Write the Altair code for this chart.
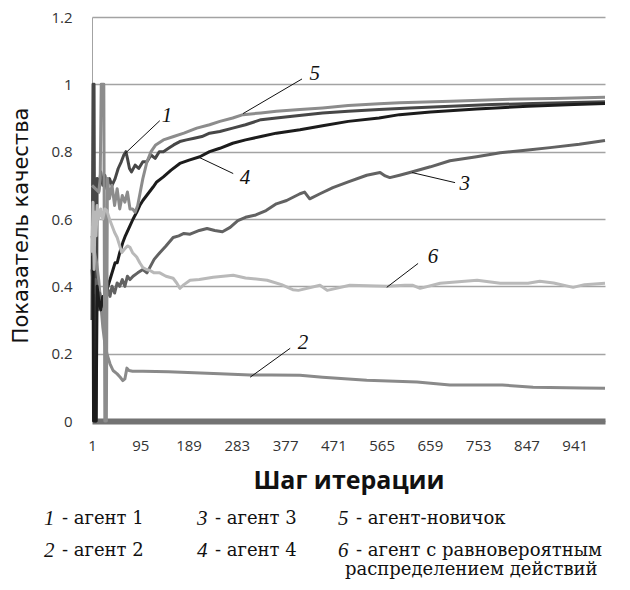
import altair as alt
import pandas as pd

# ---------------- data ----------------
x_ticks = [1, 95, 189, 283, 377, 471, 565, 659, 753, 847, 941]
y_ticks = [0, 0.2, 0.4, 0.6, 0.8, 1.0, 1.2]

series_keys = ["1", "2", "3", "4", "5", "6"]
series_names = ["агент 1", "агент 2", "агент 3", "агент 4", "агент-новичок",
                "агент с равновероятным распределением действий"]

steps_1 = [1, 3, 5, 7, 9, 11, 14, 18, 22, 26, 30, 35, 40, 46, 52, 58, 63, 67, 70, 74, 78, 85, 92,
           100, 108, 116, 124, 132, 140, 150, 160, 172, 185, 200, 215, 230, 250, 275, 300, 330,
           360, 400, 450, 500, 560, 620, 700, 780, 860, 940, 1000]
vals_1 = [0.3, 1.0, 1.0, 0.0, 0.0, 0.72, 0.68, 0.74, 0.70, 0.73, 0.69, 0.72, 0.70, 0.72, 0.75, 0.77,
          0.79, 0.80, 0.78, 0.75, 0.74, 0.76, 0.75, 0.77, 0.77, 0.79, 0.78, 0.80, 0.80, 0.81, 0.82,
          0.83, 0.835, 0.84, 0.845, 0.855, 0.86, 0.87, 0.88, 0.895, 0.90, 0.907, 0.915, 0.92, 0.925,
          0.93, 0.935, 0.94, 0.943, 0.946, 0.948]

steps_2 = [1, 6, 10, 14, 18, 22, 26, 30, 36, 42, 50, 56, 61, 65, 69, 73, 80, 100, 150, 200, 250,
           309, 350, 406, 450, 536, 634, 698, 800, 860, 957, 1000]
vals_2 = [0.55, 0.50, 0.47, 0.42, 0.35, 0.28, 0.23, 0.20, 0.17, 0.15, 0.14, 0.13, 0.12, 0.125,
          0.157, 0.15, 0.148, 0.148, 0.146, 0.143, 0.14, 0.137, 0.137, 0.136, 0.13, 0.121, 0.116,
          0.107, 0.107, 0.10, 0.098, 0.097]

steps_3 = [1, 4, 8, 12, 16, 20, 24, 28, 32, 36, 40, 45, 50, 55, 60, 65, 70, 75, 81, 90, 100, 108,
           115, 122, 133, 145, 159, 170, 180, 192, 210, 225, 240, 255, 270, 285, 300, 320, 340,
           360, 380, 406, 415, 425, 445, 470, 500, 536, 562, 572, 581, 600, 620, 660, 698, 750,
           796, 850, 893, 950, 1000]
vals_3 = [0.45, 0.38, 0.42, 0.33, 0.38, 0.34, 0.37, 0.36, 0.39, 0.37, 0.40, 0.38, 0.41, 0.40, 0.42,
          0.40, 0.43, 0.42, 0.43, 0.44, 0.45, 0.44, 0.46, 0.48, 0.50, 0.52, 0.545, 0.55, 0.557,
          0.555, 0.566, 0.572, 0.566, 0.562, 0.575, 0.595, 0.605, 0.612, 0.625, 0.645, 0.655,
          0.675, 0.68, 0.66, 0.675, 0.693, 0.71, 0.73, 0.738, 0.728, 0.723, 0.73, 0.738, 0.755,
          0.773, 0.785, 0.797, 0.805, 0.812, 0.822, 0.833]

steps_4 = [1, 3, 4, 9, 11, 14, 18, 22, 26, 30, 34, 38, 42, 46, 50, 55, 61, 66, 72, 81, 88, 94, 100,
           110, 120, 127, 140, 155, 172, 190, 211, 230, 250, 275, 300, 330, 360, 406, 450, 500,
           560, 600, 660, 750, 850, 940, 1000]
vals_4 = [0.49, 0.49, 0.0, 0.0, 0.40, 0.36, 0.33, 0.37, 0.35, 0.39, 0.41, 0.43, 0.45, 0.47, 0.47,
          0.50, 0.53, 0.55, 0.57, 0.60, 0.62, 0.64, 0.655, 0.675, 0.695, 0.71, 0.725, 0.745,
          0.765, 0.775, 0.785, 0.80, 0.81, 0.825, 0.835, 0.845, 0.855, 0.865, 0.877, 0.89, 0.90,
          0.91, 0.918, 0.927, 0.935, 0.94, 0.943]

steps_5 = [1, 14, 17, 19, 24, 26, 29, 31, 35, 40, 45, 50, 55, 60, 65, 70, 75, 80, 85, 90, 95, 100,
           108, 116, 125, 140, 160, 180, 205, 230, 250, 275, 295, 330, 360, 406, 450, 500, 560,
           600, 700, 800, 900, 1000]
vals_5 = [0.70, 0.68, 0.72, 1.0, 1.0, 0.0, 0.0, 0.72, 0.66, 0.70, 0.64, 0.69, 0.63, 0.67, 0.65,
          0.68, 0.63, 0.63, 0.62, 0.64, 0.68, 0.72, 0.77, 0.80, 0.82, 0.835, 0.845, 0.855, 0.87,
          0.88, 0.89, 0.90, 0.91, 0.915, 0.92, 0.925, 0.93, 0.937, 0.942, 0.945, 0.95, 0.955,
          0.958, 0.962]

steps_6 = [1, 3, 5, 7, 9, 11, 14, 18, 22, 26, 30, 35, 40, 45, 50, 55, 59, 64, 70, 75, 80, 88, 94,
           100, 107, 114, 122, 133, 145, 159, 166, 172, 180, 192, 210, 237, 276, 300, 342, 370,
           392, 403, 445, 459, 503, 575, 610, 626, 640, 679, 751, 796, 850, 873, 900, 938, 960,
           1000]
vals_6 = [0.50, 0.65, 0.45, 0.62, 0.55, 0.64, 0.60, 0.63, 0.60, 0.63, 0.625, 0.60, 0.58, 0.56,
          0.545, 0.52, 0.50, 0.51, 0.52, 0.516, 0.50, 0.487, 0.47, 0.456, 0.45, 0.447, 0.44,
          0.44, 0.43, 0.424, 0.41, 0.394, 0.405, 0.418, 0.42, 0.427, 0.433, 0.425, 0.418, 0.405,
          0.39, 0.388, 0.403, 0.388, 0.403, 0.40, 0.403, 0.403, 0.394, 0.409, 0.418, 0.409,
          0.409, 0.415, 0.41, 0.397, 0.405, 0.409]

legend_numbers = ["1", "3", "5", "2", "4", "6"]
legend_texts = ["- агент 1", "- агент 3", "- агент-новичок",
                "- агент 2", "- агент 4", "- агент с равновероятным"]
legend_continuation = "распределением действий"

# ---------------- build table ----------------
all_steps = [steps_1, steps_2, steps_3, steps_4, steps_5, steps_6]
all_vals = [vals_1, vals_2, vals_3, vals_4, vals_5, vals_6]
frames = []
for key, name, st, va in zip(series_keys, series_names, all_steps, all_vals):
    frames.append(pd.DataFrame({"step": st, "value": va, "series": key, "name": name}))
df = pd.concat(frames, ignore_index=True)

line_colors = ["#474747", "#8a8a8a", "#626262", "#1c1c1c", "#8c8c8c", "#b9b9b9"]

x_scale = alt.Scale(domain=[1, 1000], nice=False, zero=False)
y_scale = alt.Scale(domain=[0, 1.2], nice=False, zero=False)

SANS = "Open Sans"
SERIF_IT = "Liberation Serif"
SERIF = "DejaVu Serif"

lines = alt.Chart(df).mark_line(strokeWidth=3, strokeJoin="round").encode(
    x=alt.X("step:Q", scale=x_scale,
            axis=alt.Axis(values=x_ticks, title="Шаг итерации", grid=False, ticks=False,
                          domainWidth=6, domainColor="#737373", labelFont=SANS,
                          labelFontSize=15, labelColor="#333333", labelPadding=17,
                          labelFlush=False, labelOverlap=False,
                          titleFont=SANS, titleFontSize=25, titleFontWeight="bold",
                          titleColor="#111111", titlePadding=15)),
    y=alt.Y("value:Q", scale=y_scale,
            axis=alt.Axis(values=y_ticks, format=".1~f", title="Показатель качества",
                          grid=True, gridColor="#a3a3a3", gridWidth=1.5, ticks=False,
                          domainColor="#a3a3a3", domainWidth=1,
                          labelFont=SANS, labelFontSize=15, labelColor="#333333",
                          labelPadding=20,
                          titleFont="DejaVu Sans", titleFontSize=21, titleFontWeight="normal",
                          titleColor="#111111", titleAngle=-90, titleX=-71, titleY=208,
                          titleAlign="center", titleBaseline="middle")),
    color=alt.Color("series:N", scale=alt.Scale(domain=series_keys, range=line_colors),
                    legend=None),
    detail="series:N",
)

# ---------------- annotations (layout) ----------------
ann_df = pd.DataFrame({
    "label": ["1", "5", "4", "3", "6", "2"],
    "step": [147, 435, 299, 727, 665, 412],
    "value": [0.907, 1.031, 0.723, 0.705, 0.486, 0.231],
})
lead_df = pd.DataFrame({
    "step": [65, 295, 211, 624, 575, 309],
    "value": [0.794, 0.913, 0.782, 0.738, 0.397, 0.13],
    "step2": [133, 410, 276, 708, 636, 387],
    "value2": [0.892, 1.016, 0.735, 0.708, 0.468, 0.216],
})

ann_text = alt.Chart(ann_df).mark_text(
    font=SERIF_IT, fontStyle="italic", fontSize=21, color="#111111",
    align="center", baseline="middle").encode(
    x=alt.X("step:Q", scale=x_scale), y=alt.Y("value:Q", scale=y_scale), text="label:N")

leaders = alt.Chart(lead_df).mark_rule(color="#111111", strokeWidth=1).encode(
    x=alt.X("step:Q", scale=x_scale), y=alt.Y("value:Q", scale=y_scale),
    x2="step2:Q", y2="value2:Q")

# ---------------- text legend below the chart (layout) ----------------
dummy = pd.DataFrame({"d": [0]})
legend_pos = [(-48, 502), (105, 502), (246, 502), (-48, 534), (105, 534), (246, 534)]
legend_layers = []
for num, txt, (lx, ly) in zip(legend_numbers, legend_texts, legend_pos):
    legend_layers.append(
        alt.Chart(dummy).mark_text(font=SERIF_IT, fontStyle="italic", fontSize=21,
                                   color="#111111", align="left", baseline="middle").encode(
            x=alt.value(lx), y=alt.value(ly), text=alt.value(num)))
    legend_layers.append(
        alt.Chart(dummy).mark_text(font=SERIF, fontSize=18, color="#111111",
                                   align="left", baseline="middle").encode(
            x=alt.value(lx + 18), y=alt.value(ly), text=alt.value(txt)))
legend_layers.append(
    alt.Chart(dummy).mark_text(font=SERIF, fontSize=18, color="#111111",
                               align="left", baseline="middle").encode(
        x=alt.value(253), y=alt.value(553), text=alt.value(legend_continuation)))

chart = alt.layer(lines, leaders, ann_text, *legend_layers).properties(
    width=513, height=404,
    padding={"left": 84, "top": 9, "right": 10, "bottom": 159},
    autosize=alt.AutoSizeParams(type="none"),
).configure_view(stroke="transparent")

chart.save("out.html", embed_options={"renderer": "svg", "actions": False})
